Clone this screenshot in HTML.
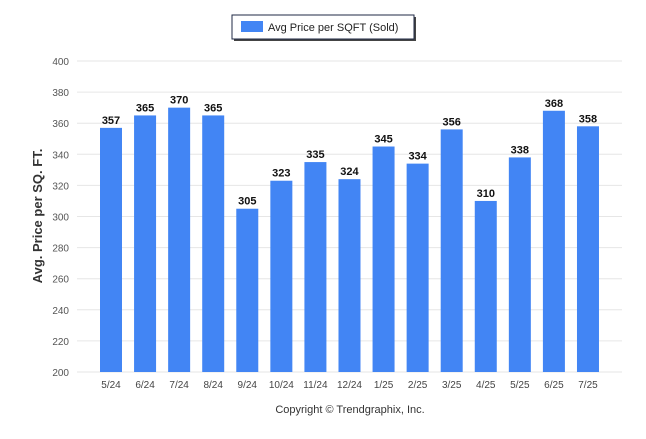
<!DOCTYPE html>
<html><head><meta charset="utf-8"><style>
body{margin:0;background:#fff;font-family:"Liberation Sans",Arial,sans-serif}
</style></head><body>
<svg width="646" height="434" xmlns="http://www.w3.org/2000/svg">
<g>
<rect x="234" y="17" width="182" height="24" fill="#444"/>
<rect x="232" y="15" width="182" height="24" fill="#fff" stroke="#1f2a44" stroke-width="1"/>
<rect x="241" y="21" width="22" height="11" fill="#4285f4"/>
<text x="268" y="31" font-size="11" fill="#222">Avg Price per SQFT (Sold)</text>
</g>
<g id="grid"></g><g id="bars"></g>
<text transform="translate(42,216) rotate(-90)" text-anchor="middle" font-size="13" font-weight="bold" fill="#333">Avg. Price per SQ. FT.</text>
<text x="350" y="413" text-anchor="middle" font-size="11" fill="#333">Copyright © Trendgraphix, Inc.</text>
</svg>
<script>
const categories=["5/24","6/24","7/24","8/24","9/24","10/24","11/24","12/24","1/25","2/25","3/25","4/25","5/25","6/25","7/25"];
const values=[357,365,370,365,305,323,335,324,345,334,356,310,338,368,358];
const yTicks=[200,220,240,260,280,300,320,340,360,380,400];
const NS="http://www.w3.org/2000/svg";
const y=v=>372-(v-200)*(311/200);
const x=i=>111+i*34.07;
const g=document.getElementById('grid'),b=document.getElementById('bars');
function mk(p,t,a){const e=document.createElementNS(NS,t);for(const k in a)e.setAttribute(k,a[k]);p.appendChild(e);return e;}
yTicks.forEach(t=>{
 const l=mk(g,'line',{x1:77,x2:622,y1:y(t),y2:y(t),stroke:'#e6e6e6','stroke-width':1});
 
 
 const tx=mk(g,'text',{x:69,y:y(t)+4,'text-anchor':'end','font-size':10,fill:'#555'});
 tx.textContent=t;
 
 
});
categories.forEach((c,i)=>{
 const r=mk(b,'rect',{x:x(i)-11,y:y(values[i]),width:22,height:372-y(values[i]),fill:'#4285f4'});
 
 
 const v=mk(b,'text',{x:x(i),y:y(values[i])-4,'text-anchor':'middle','font-size':11,'font-weight':'bold',fill:'#111'});
 v.textContent=values[i];
 
 
 const tl=mk(b,'text',{x:x(i),y:388,'text-anchor':'middle','font-size':10,fill:'#444'});
 tl.textContent=c;
 
 
});
</script>
</body></html>
